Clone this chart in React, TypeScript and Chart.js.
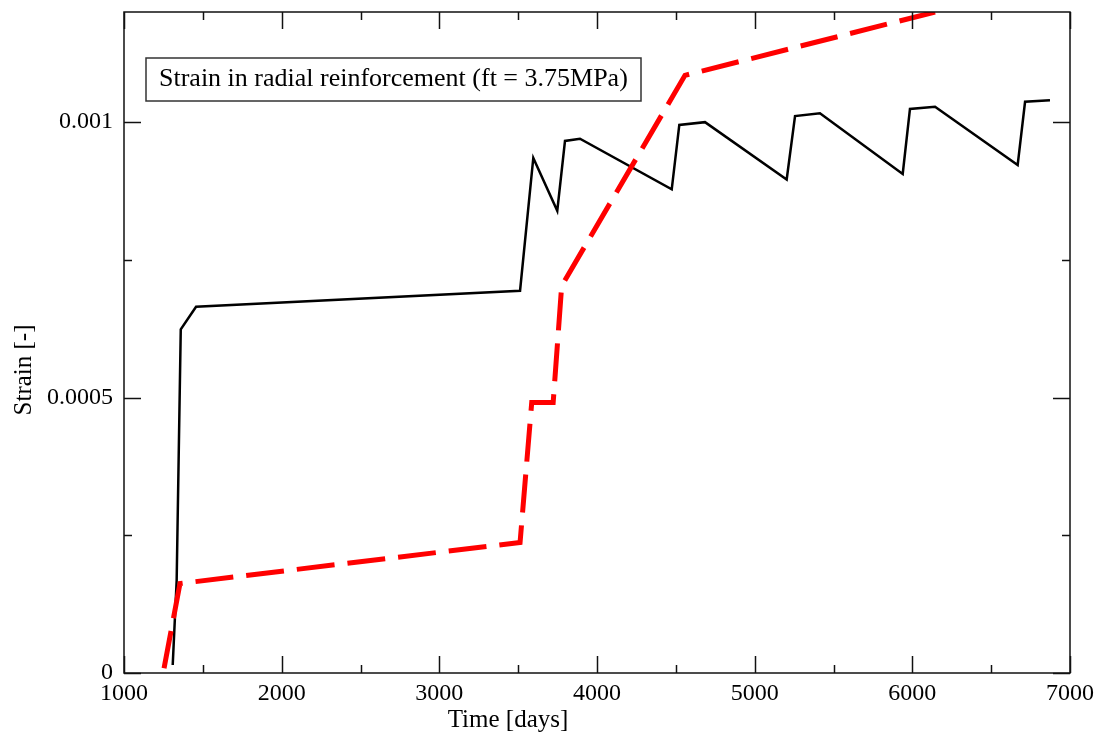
import React, { useEffect, useRef } from 'react';
import { Chart, registerables } from 'chart.js';

Chart.register(...registerables);

// ---- Data ----
const blackTime = [1309, 1334, 1360, 1457, 3512, 3596, 3748, 3797, 3892, 4474, 4522, 4685, 5203, 5256, 5414, 5939, 5985, 6144, 6668, 6715, 6873];
const blackStrain = [0.0000145, 0.000168, 0.000624, 0.000665, 0.000694, 0.000935, 0.000839, 0.000966, 0.00097, 0.000878, 0.000995, 0.001, 0.000896, 0.001011, 0.001016, 0.000906, 0.001024, 0.001028, 0.000922, 0.001037, 0.00104];

const redTime = [1254, 1355, 3512, 3586, 3722, 3776, 4558, 6144];
const redStrain = [0.0000085, 0.0001625, 0.000237, 0.000491, 0.000491, 0.000703, 0.001085, 0.0012];

const xMajorTicks = [1000, 2000, 3000, 4000, 5000, 6000, 7000];
const xMinorTicks = [1500, 2500, 3500, 4500, 5500, 6500];
const xTickLabels = ['1000', '2000', '3000', '4000', '5000', '6000', '7000'];
const yMajorTicks = [0, 0.0005, 0.001];
const yMinorTicks = [0.00025, 0.00075];
const yTickLabels = ['0', '0.0005', '0.001'];

const boxText = 'Strain in radial reinforcement (ft = 3.75MPa)';
const xTitle = 'Time [days]';
const yTitle = 'Strain [-]';

const SERIF = '"Liberation Serif", "Times New Roman", serif';

const framePlugin = {
  id: 'frameTicks',
  afterDraw(chart: any) {
    const { ctx, chartArea: a, scales } = chart;
    const xs = scales.x;
    const ys = scales.y;
    ctx.save();
    ctx.strokeStyle = '#111';
    ctx.lineWidth = 1.5;
    ctx.strokeRect(a.left, a.top, a.right - a.left, a.bottom - a.top);
    const seg = (x1: number, y1: number, x2: number, y2: number) => {
      ctx.beginPath();
      ctx.moveTo(x1, y1);
      ctx.lineTo(x2, y2);
      ctx.stroke();
    };
    const MAJ = 17;
    const MIN = 8;
    xMajorTicks.forEach((v) => {
      const p = Math.round(xs.getPixelForValue(v)) + 0.5;
      seg(p, a.bottom, p, a.bottom - MAJ);
      seg(p, a.top, p, a.top + MAJ);
    });
    xMinorTicks.forEach((v) => {
      const p = Math.round(xs.getPixelForValue(v)) + 0.5;
      seg(p, a.bottom, p, a.bottom - MIN);
      seg(p, a.top, p, a.top + MIN);
    });
    yMajorTicks.forEach((v) => {
      const p = Math.round(ys.getPixelForValue(v)) + 0.5;
      seg(a.left, p, a.left + MAJ, p);
      seg(a.right, p, a.right - MAJ, p);
    });
    yMinorTicks.forEach((v) => {
      const p = Math.round(ys.getPixelForValue(v)) + 0.5;
      seg(a.left, p, a.left + MIN, p);
      seg(a.right, p, a.right - MIN, p);
    });

    // annotation box
    ctx.fillStyle = '#fff';
    ctx.fillRect(146, 58, 495, 43);
    ctx.strokeStyle = '#333';
    ctx.lineWidth = 1.5;
    ctx.strokeRect(146, 58, 495, 43);
    ctx.fillStyle = '#000';
    ctx.font = `26px ${SERIF}`;
    ctx.textAlign = 'left';
    ctx.textBaseline = 'alphabetic';
    ctx.fillText(boxText, 159, 86);

    // axis titles
    ctx.font = `25px ${SERIF}`;
    ctx.textAlign = 'center';
    ctx.fillText(xTitle, 508, 727);
    ctx.translate(31, 370);
    ctx.rotate(-Math.PI / 2);
    ctx.fillText(yTitle, 0, 0);
    ctx.restore();
  },
};

export default function App() {
  const ref = useRef<HTMLCanvasElement | null>(null);
  useEffect(() => {
    document.body.style.margin = '0';
    const canvas = ref.current;
    if (!canvas) return;
    const chart = new Chart(canvas, {
      type: 'line',
      data: {
        datasets: [
          {
            label: 'red',
            data: redTime.map((t, i) => ({ x: t, y: redStrain[i] })),
            borderColor: '#ff0000',
            borderWidth: 5,
            borderDash: [38, 13],
            borderCapStyle: 'butt',
            pointRadius: 0,
            tension: 0,
            fill: false,
            clip: 0,
            order: 0,
          },
          {
            label: 'black',
            data: blackTime.map((t, i) => ({ x: t, y: blackStrain[i] })),
            borderColor: '#000000',
            borderWidth: 2.5,
            pointRadius: 0,
            tension: 0,
            fill: false,
            clip: 0,
            order: 1,
          },
        ],
      },
      options: {
        animation: false,
        responsive: false,
        devicePixelRatio: 1,
        layout: { padding: { left: 0, right: 35, top: 12, bottom: 0 } },
        plugins: {
          legend: { display: false },
          tooltip: { enabled: false },
        },
        scales: {
          x: {
            type: 'linear',
            min: 1000,
            max: 7000,
            grid: { display: false, drawTicks: false },
            border: { display: false },
            ticks: {
              stepSize: 500,
              autoSkip: false,
              maxRotation: 0,
              padding: 6,
              color: '#000',
              font: { family: SERIF, size: 24 },
              callback: (v: any) => {
                const i = xMajorTicks.indexOf(Number(v));
                return i >= 0 ? xTickLabels[i] : '';
              },
            },
            afterFit: (s: any) => {
              s.height = 63;
              s.paddingLeft = 0;
              s.paddingRight = 0;
              s.paddingTop = 0;
              s.paddingBottom = 0;
            },
          },
          y: {
            type: 'linear',
            min: 0,
            max: 0.0012,
            grid: { display: false, drawTicks: false },
            border: { display: false },
            ticks: {
              stepSize: 0.00025,
              autoSkip: false,
              padding: 11,
              color: '#000',
              font: { family: SERIF, size: 24 },
              callback: (v: any) => {
                const n = Number(v);
                const i = yMajorTicks.findIndex((m) => Math.abs(m - n) < 1e-9);
                return i >= 0 ? yTickLabels[i] : '';
              },
            },
            afterFit: (s: any) => {
              s.width = 124;
              s.paddingLeft = 0;
              s.paddingRight = 0;
              s.paddingTop = 0;
              s.paddingBottom = 0;
            },
          },
        },
      } as any,
      plugins: [framePlugin],
    });
    return () => chart.destroy();
  }, []);
  return <canvas ref={ref} width={1105} height={736} style={{ display: 'block', width: 1105, height: 736 }} />;
}
